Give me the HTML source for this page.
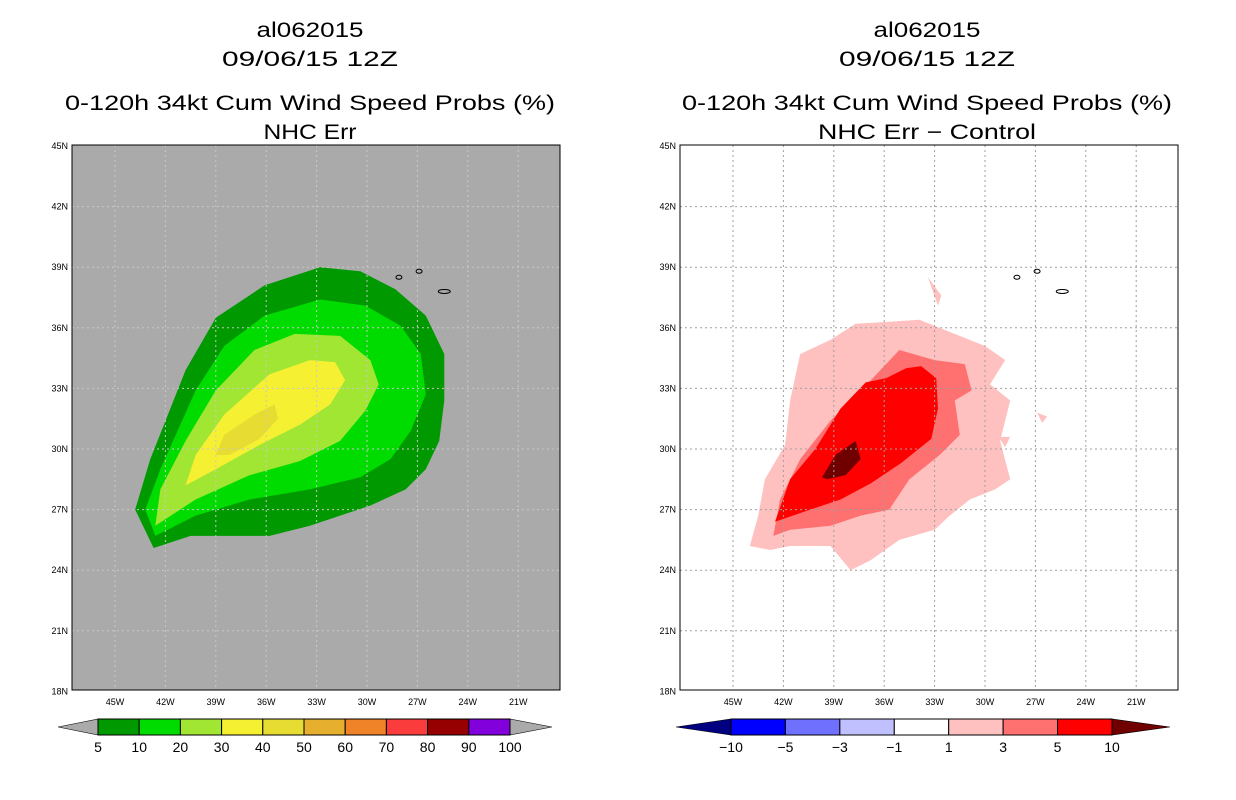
<!DOCTYPE html>
<html><head><meta charset="utf-8"><style>
body{margin:0;background:#fff;}
svg{display:block;font-family:"Liberation Sans",sans-serif;}
</style></head><body>
<svg id="s" width="1236" height="800"></svg>
<script>
const lonTicks=[-45,-42,-39,-36,-33,-30,-27,-24,-21];
const latTicks=[45,42,39,36,33,30,27,24,21,18];
const leftLevels=["5","10","20","30","40","50","60","70","80","90","100"];
const leftColors=["#009900","#00dc00","#a0e632","#f5f032","#e6dc32","#e6af2d","#f08228","#fa3c3c","#960000","#8200dc"];
const rightLevels=["-10","-5","-3","-1","1","3","5","10"];
const rightColors=["#0000ff","#7070ff","#c0c0ff","#ffffff","#ffc0c0","#ff7070","#ff0000"];
const L5=[[-42.7,25.1],[-43.8,27.0],[-42.9,29.5],[-40.8,33.9],[-39.0,36.5],[-36.1,38.1],[-32.8,39.0],[-30.4,38.8],[-28.3,37.9],[-26.5,36.6],[-25.4,34.7],[-25.4,32.4],[-25.7,30.4],[-26.5,29.0],[-27.7,28.0],[-29.8,27.2],[-33.4,26.2],[-35.8,25.7],[-40.5,25.7]];
const L10=[[-42.6,25.7],[-43.2,27.0],[-42.3,29.0],[-40.2,32.9],[-38.5,35.1],[-36.1,36.6],[-32.8,37.4],[-30.1,37.1],[-28.0,36.1],[-26.8,34.7],[-26.5,32.7],[-27.4,30.9],[-28.6,29.5],[-30.4,28.6],[-33.4,28.0],[-37.0,27.5],[-40.2,26.7]];
const L20=[[-42.6,26.2],[-42.3,28.0],[-40.8,30.4],[-39.0,32.9],[-36.7,34.9],[-34.3,35.7],[-31.6,35.6],[-29.8,34.4],[-29.3,33.2],[-30.1,31.9],[-31.6,30.4],[-34.0,29.4],[-37.0,28.7],[-40.2,27.5]];
const L30=[[-40.8,28.2],[-40.2,29.7],[-38.5,31.7],[-35.8,33.7],[-33.4,34.4],[-31.9,34.3],[-31.3,33.4],[-32.2,32.2],[-34.0,31.2],[-36.4,30.2],[-39.0,29.0]];
const L40=[[-39.0,29.7],[-38.5,30.7],[-36.7,31.7],[-35.5,32.2],[-35.3,31.5],[-36.4,30.5],[-38.2,29.7]];
const R1=[[-44.0,25.2],[-43.5,26.7],[-43.1,28.5],[-41.9,30.2],[-41.6,32.4],[-41.0,34.7],[-39.2,35.4],[-37.7,36.2],[-35.7,36.3],[-33.9,36.4],[-32.4,35.9],[-30.0,35.1],[-28.8,34.4],[-29.7,33.2],[-28.5,32.4],[-29.1,30.4],[-28.5,28.5],[-29.4,28.0],[-30.9,27.5],[-32.1,26.7],[-33.0,26.0],[-35.1,25.5],[-36.8,24.5],[-38.0,24.0],[-39.2,25.2],[-41.6,25.2],[-42.8,25.0]];
const R1b=[[-33.4,38.5],[-32.6,37.6],[-32.8,37.1]];
const R1c=[[-26.9,31.8],[-26.6,31.3],[-26.3,31.6]];
const R1d=[[-29.2,30.6],[-28.5,30.6],[-28.8,30.1]];
const R3=[[-42.6,25.7],[-42.2,27.5],[-41.0,29.5],[-39.2,31.4],[-36.8,33.4],[-35.1,34.9],[-33.0,34.4],[-31.2,34.2],[-30.8,32.9],[-31.8,32.4],[-31.5,30.7],[-32.7,29.7],[-34.5,28.5],[-35.7,27.0],[-37.4,26.7],[-39.2,26.2],[-41.6,26.0]];
const R5=[[-42.5,26.4],[-41.6,28.5],[-40.1,30.0],[-38.6,32.0],[-37.1,33.3],[-35.9,33.5],[-34.7,34.0],[-33.8,34.1],[-32.9,33.5],[-32.8,32.0],[-33.2,30.5],[-35.0,29.3],[-36.8,28.3],[-38.6,27.5],[-40.4,27.0]];
const R10=[[-39.7,28.6],[-38.9,29.7],[-37.7,30.4],[-37.4,29.5],[-38.3,28.7],[-39.4,28.5]];
const islands=[[-28.1,38.5],[-26.9,38.8],[-25.4,37.8]];

const NS="http://www.w3.org/2000/svg";
const svg=document.getElementById('s');
function mk(tag,attrs,parent){const e=document.createElementNS(NS,tag);for(const k in attrs)e.setAttribute(k,attrs[k]);(parent||svg).appendChild(e);return e;}
function txt(x,y,s,size,anchor,parent){const t=mk('text',{x:x,y:y,'font-size':size,'text-anchor':anchor||'middle',fill:'#000'},parent);t.textContent=s;return t;}

function panel(name,x0,x1,cx,bg,lines,polys,ttl,ttlLen){
  const g=mk('g',{});
  
  
  const X=lon=>(name==='left-panel'?115:733)+(lon+45)*16.8;
  const Y=lat=>146+(45-lat)*20.2;
  const t=[["al062015",37,107],["09/06/15 12Z",66,176],["0-120h 34kt Cum Wind Speed Probs (%)",110,490],[ttl,139,ttlLen]];
  t.forEach((a,i)=>{const e=txt(cx,a[1],a[0],21,'middle',g);e.setAttribute('textLength',a[2]);e.setAttribute('lengthAdjust','spacingAndGlyphs');});
  const r=mk('rect',{x:x0,y:145,width:x1-x0,height:545,fill:bg},g);
  
  
  polys.forEach(p=>{
    const pl=mk('polygon',{points:p[0].map(q=>X(q[0])+','+Y(q[1])).join(' '),fill:p[1]},g);
    
    
  });
  lonTicks.forEach(l=>{const ln=mk('line',{x1:X(l),x2:X(l),y1:145,y2:690,stroke:lines,'stroke-dasharray':'2,3'},g);
    const e=txt(X(l),705,Math.abs(l)+'W',9,'middle',g);});
  latTicks.forEach(l=>{if(l<45&&l>18){const ln=mk('line',{x1:x0,x2:x1,y1:Y(l),y2:Y(l),stroke:lines,'stroke-dasharray':'2,3'},g);}
    const e=txt(x0-4,Y(l)+3,l+'N',9,'end',g);});
  islands.forEach(p=>{const e=mk('ellipse',{cx:X(p[0]),cy:Y(p[1]),rx:p[0]>-26?6:3,ry:2,fill:'none',stroke:'#000','stroke-width':1},g);});
  const b=mk('rect',{x:x0,y:145,width:x1-x0,height:545,fill:'none',stroke:'#000','stroke-width':1},g);
  
  
}
panel('left-panel',72,560,310,'#aaaaaa','#c8c8c8',[[L5,leftColors[0],'5'],[L10,leftColors[1],'10'],[L20,leftColors[2],'20'],[L30,leftColors[3],'30'],[L40,leftColors[4],'40']],'NHC Err',93);
panel('right-panel',680,1178,927,'#ffffff','#a0a0a0',[[R1,rightColors[4],'1'],[R1b,rightColors[4],'1'],[R1c,rightColors[4],'1'],[R1d,rightColors[4],'1'],[R3,rightColors[5],'3'],[R5,rightColors[6],'5'],[R10,'#700000','10']],'NHC Err \u2212 Control',218);

function cbar(name,tipL,x0,x1,tipR,colors,labels,lc,rc,labelOffset){
  const g=mk('g',{});
  
  
  const n=colors.length,w=(x1-x0)/n;
  const a=mk('polygon',{points:`${tipL},727 ${x0},719 ${x0},735`,fill:lc,stroke:'#000','stroke-width':0.6},g);
  
  const c=mk('polygon',{points:`${tipR},727 ${x1},719 ${x1},735`,fill:rc,stroke:'#000','stroke-width':0.6},g);
  
  colors.forEach((col,i)=>{const r=mk('rect',{x:x0+i*w,y:719,width:w,height:16,fill:col,stroke:'#000','stroke-width':1},g);});
  labels.forEach((s,i)=>{const e=txt(x0+(i+labelOffset)*w,752,s.replace('-','\u2212'),14,'middle',g);});
}
cbar('left-colorbar',58,98,510,552,leftColors,leftLevels,'#aaaaaa','#aaaaaa',0);
cbar('right-colorbar',676,731,1112,1170,rightColors,rightLevels,'#000080','#700000',0);
</script>
</body></html>
